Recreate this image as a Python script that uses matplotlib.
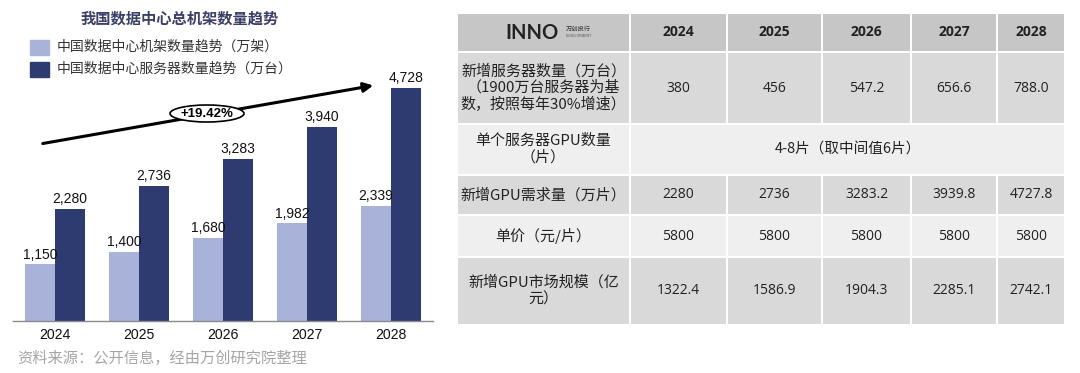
import numpy as np
import matplotlib
matplotlib.use('Agg')
import matplotlib.pyplot as plt
from matplotlib.patches import Rectangle, Ellipse

# ── Data ──────────────────────────────────────────────────────────────────────
YEARS      = ['2024', '2025', '2026', '2027', '2028']
RACKS      = [1150, 1400, 1680, 1982, 2339]      # 万架
SERVERS    = [2280, 2736, 3283, 3940, 4728]      # 万台
CAGR_LABEL = '+19.42%'

CHART_TITLE   = '我国数据中心总机架数量趋势'
LEGEND_LABELS = ['中国数据中心机架数量趋势（万架）', '中国数据中心服务器数量趋势（万台）']
SOURCE_NOTE   = '资料来源：公开信息，经由万创研究院整理'

ROW_LABELS = [
    '新增服务器数量（万台）\n（1900万台服务器为基\n数，按照每年30%增速）',
    '单个服务器GPU数量\n（片）',
    '新增GPU需求量（万片）',
    '单价（元/片）',
    '新增GPU市场规模（亿\n元）',
]
NEW_SERVERS   = ['380', '456', '547.2', '656.6', '788.0']
GPU_PER_SRV   = '4-8片（取中间值6片）'
GPU_DEMAND    = ['2280', '2736', '3283.2', '3939.8', '4727.8']
UNIT_PRICE    = ['5800', '5800', '5800', '5800', '5800']
MARKET_SIZE   = ['1322.4', '1586.9', '1904.3', '2285.1', '2742.1']

# ── Styles / layout (pixels) ──────────────────────────────────────────────────
W, H = 1080, 373
C_LIGHT = '#a9b3da'
C_DARK  = '#2e3b70'
CJK = ['Noto Sans CJK SC', 'DejaVu Sans']
NUM = ['Liberation Sans', 'DejaVu Sans']
TAB_NUM = ['Open Sans', 'DejaVu Sans']

COL_EDGES = [457, 630, 727, 822, 911, 997, 1065]
ROW_EDGES = [13, 52, 124, 175, 215, 257, 325]
ROW_COLORS = ['#c6c6c6', '#d9d9d9', '#efefef', '#d9d9d9', '#efefef', '#d9d9d9']

fig = plt.figure(figsize=(W / 100, H / 100), dpi=100)
fig.patch.set_facecolor('white')

# ── Bar chart ─────────────────────────────────────────────────────────────────
base_px, top_px = 321, 40
ax = fig.add_axes([13 / W, (H - base_px) / H, (433 - 13) / W, (base_px - top_px) / H])
x = np.arange(len(YEARS))
bw = 30 / 84
ax.bar(x - bw / 2, RACKS, bw, color=C_LIGHT, zorder=2)
ax.bar(x + bw / 2, SERVERS, bw, color=C_DARK, zorder=2)
ax.set_xlim(-0.5, 4.5)
ax.set_ylim(0, (base_px - top_px) * 4728 / 233)
for xi, v in zip(x - bw / 2, RACKS):
    ax.annotate(f'{v:,}', (xi, v), xytext=(0, 2), textcoords='offset points',
                ha='center', va='bottom', fontsize=10, family=NUM, color='#111')
for xi, v in zip(x + bw / 2, SERVERS):
    ax.annotate(f'{v:,}', (xi, v), xytext=(0, 2), textcoords='offset points',
                ha='center', va='bottom', fontsize=10, family=NUM, color='#111')
ax.set_xticks(x)
ax.set_xticklabels(YEARS, fontsize=10.2, family=NUM, color='#111')
ax.tick_params(axis='x', length=0, pad=5)
ax.set_yticks([])
for s in ['top', 'right', 'left']:
    ax.spines[s].set_visible(False)
ax.spines['bottom'].set_color('#8a8a8a')
ax.spines['bottom'].set_linewidth(1.0)
ax.patch.set_alpha(0)

# ── Overlay in pixel coordinates ──────────────────────────────────────────────
ov = fig.add_axes([0, 0, 1, 1])
ov.set_xlim(0, W)
ov.set_ylim(H, 0)
ov.axis('off')
ov.patch.set_alpha(0)

ov.text(180, 19, CHART_TITLE, ha='center', va='center', fontsize=11,
        fontweight='bold', family=CJK, color='#3a4066')
for i, (lab, c) in enumerate(zip(LEGEND_LABELS, [C_LIGHT, C_DARK])):
    yc = 47 + i * 22
    ov.add_patch(Rectangle((30, yc - 7.5), 19, 15, color=c))
    ov.text(57, yc, lab, ha='left', va='center', fontsize=10, family=CJK, color='#333')

# growth arrow + ellipse label
ov.annotate('', xy=(376, 85), xytext=(40, 144),
            arrowprops=dict(arrowstyle='-|>', lw=2.2, color='black', mutation_scale=14))
ov.add_patch(Ellipse((207, 113.5), 74, 17, facecolor='white', edgecolor='black', lw=1.2, zorder=3))
ov.text(207, 114, CAGR_LABEL, ha='center', va='center', fontsize=9.5, fontweight='bold',
        family=NUM, zorder=4)

ov.text(17, 358, SOURCE_NOTE, ha='left', va='center', fontsize=11, family=CJK, color='#a5a5a5')

# ── Table ─────────────────────────────────────────────────────────────────────
def cell(c0, c1, r, text, fam, size=10, weight='normal'):
    x0, x1 = COL_EDGES[c0], COL_EDGES[c1]
    y0, y1 = ROW_EDGES[r], ROW_EDGES[r + 1]
    ov.add_patch(Rectangle((x0 + 1, y0 + 1), x1 - x0 - 2, y1 - y0 - 2,
                           facecolor=ROW_COLORS[r], edgecolor='none'))
    if text:
        ov.text((x0 + x1) / 2, (y0 + y1) / 2, text, ha='center', va='center',
                multialignment='center', fontsize=size, fontweight=weight,
                family=fam, color='#222', linespacing=1.2)

# header
cell(0, 1, 0, '', CJK)
ov.text(532, 33, 'INNO', ha='center', va='center', fontsize=14.5, fontweight='bold',
        family=['Lato', 'DejaVu Sans'], color='#222')
ov.text(566, 29, '万创投行', ha='left', va='center', fontsize=4.5, family=CJK, color='#333')
ov.text(566, 36, 'DEVELOPMENT', ha='left', va='center', fontsize=2.5, family=NUM, color='#555')
for j, yr in enumerate(YEARS):
    cell(j + 1, j + 2, 0, yr, TAB_NUM, size=10, weight='bold')

rows = [NEW_SERVERS, None, GPU_DEMAND, UNIT_PRICE, MARKET_SIZE]
for r, (lab, vals) in enumerate(zip(ROW_LABELS, rows), start=1):
    cell(0, 1, r, lab, CJK, size=10.8)
    if vals is None:
        cell(1, 6, r, GPU_PER_SRV, CJK, size=10.5)
    else:
        for j, v in enumerate(vals):
            cell(j + 1, j + 2, r, v, TAB_NUM, size=10)

fig.savefig('out.png', dpi=100, facecolor='white')
